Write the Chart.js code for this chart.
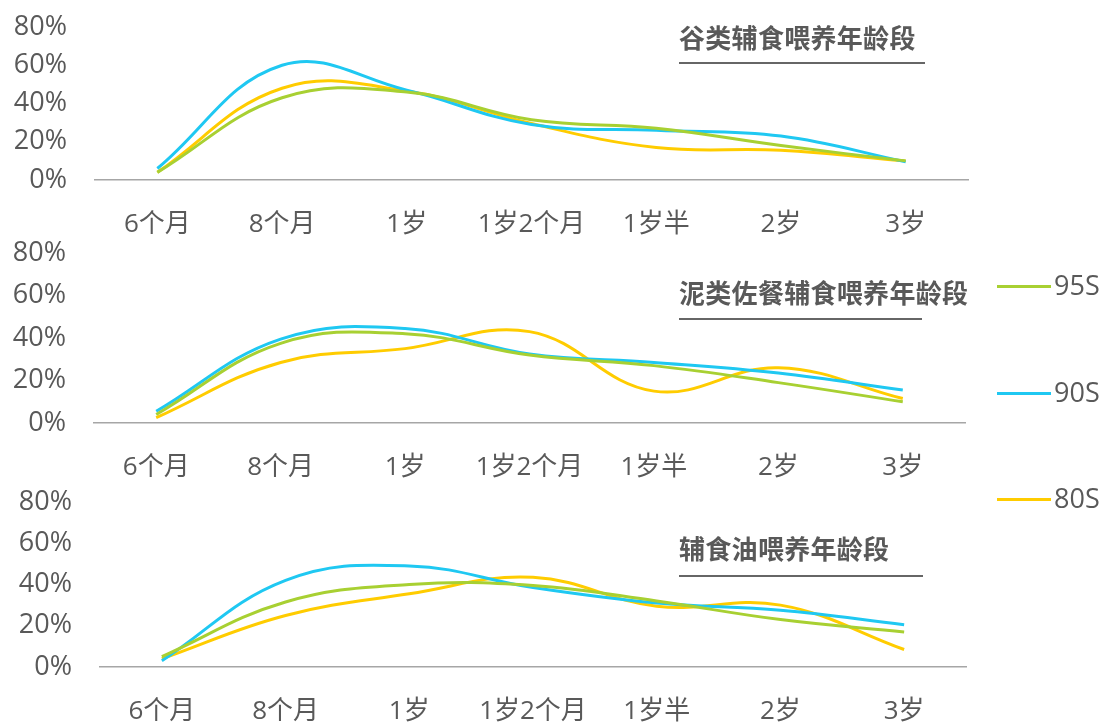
<!DOCTYPE html>
<html>
<head>
<meta charset="utf-8">
<script src="https://cdn.jsdelivr.net/npm/chart.js@4/dist/chart.umd.min.js"></script>
<style>
  html, body { margin: 0; padding: 0; background: #ffffff; }
  #wrap { position: relative; width: 1104px; height: 723px; overflow: hidden; background: #fff; }
  canvas.panel { position: absolute; left: 0; top: 0; }
  .title { position: absolute; left: 679px; font-family: "Noto Sans CJK SC", sans-serif; font-weight: bold;
           font-size: 26px; color: #595959; line-height: 30px; white-space: nowrap; letter-spacing: 0.3px; }
  .uline { position: absolute; left: 679px; height: 2px; background: #666666; }
  .leg-line { position: absolute; left: 997px; width: 54px; height: 3px; }
  .leg-text { position: absolute; left: 1054px; font-family: "Open Sans", "Noto Sans CJK SC", sans-serif;
              font-size: 27px; color: #595959; line-height: 30px; }
</style>
</head>
<body>
<div id="wrap">
  <canvas id="c0" class="panel" width="1104" height="723"></canvas>
  <canvas id="c1" class="panel" width="1104" height="723"></canvas>
  <canvas id="c2" class="panel" width="1104" height="723"></canvas>
</div>
<script>
// ---- data ----
const categories = ['6个月', '8个月', '1岁', '1岁2个月', '1岁半', '2岁', '3岁'];
const seriesNames = ['95S', '90S', '80S'];
const panelTitles = ['谷类辅食喂养年龄段', '泥类佐餐辅食喂养年龄段', '辅食油喂养年龄段'];
const yTickValues = [0, 20, 40, 60, 80];

// 谷类辅食喂养年龄段 (%)
const cereal95 = [4, 43, 46, 31.5, 27, 18, 10];
const cereal90 = [6, 60, 47, 29, 26, 23, 9.5];
const cereal80 = [4, 48, 46.5, 29.5, 17, 15.5, 10];

// 泥类佐餐辅食喂养年龄段 (%)
const puree95 = [4, 37.5, 42, 32, 27, 19, 10];
const puree90 = [5.5, 39.5, 44.5, 32.5, 28.5, 23.5, 15.5];
const puree80 = [2.5, 28.5, 35, 43, 15, 26, 11.5];

// 辅食油喂养年龄段 (%)
const oil95 = [5, 31.5, 40, 39.5, 32, 23, 17];
const oil90 = [3, 42, 49, 38.5, 31, 27.5, 20.5];
const oil80 = [4, 25, 35.5, 43.5, 29.5, 30, 8.5];

const panelData = [
  [cereal95, cereal90, cereal80],
  [puree95, puree90, puree80],
  [oil95, oil90, oil80]
];

// ---- styles ----
const seriesColors = ['#a8d032', '#1fc8f2', '#ffcc00'];
const textColor = '#595959';
const W = 1104, H = 723;
// plot boxes [left, top, right, bottom]
const plotBoxes = [
  [95, 27, 968, 180],
  [94, 253, 965, 423],
  [100, 502, 966, 667]
];
const xAxisHeights = [62, 62, 56];
const titleTops = [22, 277, 533];
const ulineTops = [62, 318, 575];
const ulineWidths = [246, 243, 244];
const legendYs = [286, 393, 499];

const wrap = document.getElementById('wrap');

panelTitles.forEach((t, i) => {
  const d = document.createElement('div');
  d.className = 'title';
  d.style.top = titleTops[i] + 'px';
  d.textContent = t;
  wrap.appendChild(d);
  const u = document.createElement('div');
  u.className = 'uline';
  u.style.top = ulineTops[i] + 'px';
  u.style.width = ulineWidths[i] + 'px';
  wrap.appendChild(u);
});

seriesNames.forEach((n, i) => {
  const l = document.createElement('div');
  l.className = 'leg-line';
  l.style.top = (legendYs[i] - 1.5) + 'px';
  l.style.background = seriesColors[i];
  wrap.appendChild(l);
  const tx = document.createElement('div');
  tx.className = 'leg-text';
  tx.style.top = (legendYs[i] - 16) + 'px';
  tx.textContent = n;
  wrap.appendChild(tx);
});

panelData.forEach((sets, i) => {
  const [L, T, R, B] = plotBoxes[i];
  const xh = xAxisHeights[i];
  new Chart(document.getElementById('c' + i), {
    type: 'line',
    data: {
      labels: categories,
      datasets: sets.map((vals, k) => ({
        label: seriesNames[k],
        data: vals,
        borderColor: seriesColors[k],
        backgroundColor: seriesColors[k],
        borderWidth: 3,
        pointRadius: 0,
        tension: 0.4,
        fill: false
      }))
    },
    options: {
      responsive: false,
      animation: false,
      events: [],
      layout: { padding: { left: 0, right: W - R, top: T, bottom: Math.max(0, H - B - xh) } },
      plugins: { legend: { display: false }, tooltip: { enabled: false }, title: { display: false } },
      scales: {
        x: {
          type: 'category',
          offset: true,
          grid: { display: false },
          border: { display: true, color: '#a6a6a6', width: 1.5 },
          ticks: {
            color: textColor,
            padding: 21,
            maxRotation: 0,
            autoSkip: false,
            font: { family: '"Open Sans", "Noto Sans CJK SC", sans-serif', size: 26 }
          },
          afterFit: (s) => { s.height = xh; s.paddingLeft = 0; s.paddingRight = 0; }
        },
        y: {
          min: 0,
          max: 80,
          afterBuildTicks: (s) => { s.ticks = yTickValues.map(v => ({ value: v })); },
          grid: { display: false },
          border: { display: false },
          ticks: {
            color: textColor,
            padding: 20,
            callback: (v) => v + '%',
            font: { family: '"Open Sans", "Noto Sans CJK SC", sans-serif', size: 27 }
          },
          afterFit: (s) => { s.width = L; s.paddingTop = 0; s.paddingBottom = 0; }
        }
      }
    }
  });
});
</script>
</body>
</html>
